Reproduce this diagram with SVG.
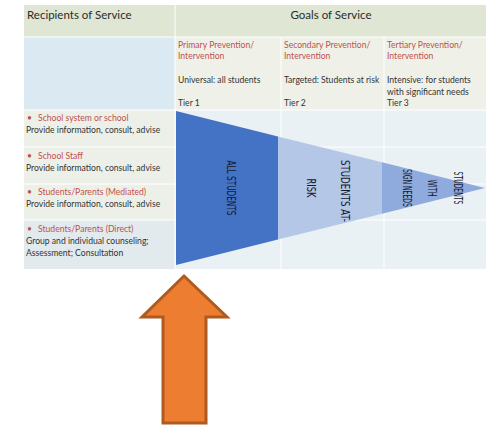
<svg xmlns="http://www.w3.org/2000/svg" width="498" height="425" viewBox="0 0 498 425">
<style>
.hd{font-family:Lato,"Open Sans",sans-serif;font-size:11.5px;fill:#2b2b2b}
.sm{font-family:Lato,"Open Sans",sans-serif;font-size:8.6px;fill:#333}
.rd{font-family:Lato,"Open Sans",sans-serif;font-size:8.6px;fill:#c0504d}
.tri{font-family:"DejaVu Sans","Liberation Sans",sans-serif;font-size:12px;fill:#141a30}
.sep{stroke:#ffffff;stroke-width:1;fill:none}
</style>
<rect width="498" height="425" fill="#ffffff"/>
<g id="table">
  <rect x="24" y="5" width="151" height="32" fill="#dfe6d3"/>
  <rect x="175" y="5" width="311" height="32" fill="#dfe6d3"/>
  <rect x="24" y="37" width="151" height="73" fill="#dbeaf2"/>
  <rect x="175" y="37" width="311" height="73" fill="#eff1e9"/>
  <rect x="24" y="110" width="151" height="110" fill="#edf0e8"/>
  <rect x="24" y="220" width="151" height="49" fill="#e2eaed"/>
  <rect x="175" y="110" width="311" height="159" fill="#eaf1f5"/>
  <line class="sep" x1="175" y1="5" x2="175" y2="269"/>
  <line class="sep" x1="281" y1="37" x2="281" y2="269"/>
  <line class="sep" x1="384" y1="37" x2="384" y2="269"/>
  <line class="sep" x1="24" y1="37" x2="486" y2="37"/>
  <line class="sep" x1="24" y1="110" x2="486" y2="110"/>
  <line class="sep" x1="24" y1="147" x2="486" y2="147"/>
  <line class="sep" x1="24" y1="184" x2="486" y2="184"/>
  <line class="sep" x1="24" y1="220" x2="486" y2="220"/>
</g>
<g id="header">
  <text class="hd" x="27" y="19">Recipients of Service</text>
  <text class="hd" x="331" y="19" text-anchor="middle">Goals of Service</text>
</g>
<g id="tiers">
  <text class="rd" x="178" y="48">Primary Prevention/</text>
  <text class="rd" x="178" y="59">Intervention</text>
  <text class="sm" x="178" y="83">Universal: all students</text>
  <text class="sm" x="178" y="106">Tier 1</text>
  <text class="rd" x="284" y="48">Secondary Prevention/</text>
  <text class="rd" x="284" y="59">Intervention</text>
  <text class="sm" x="284" y="83">Targeted: Students at risk</text>
  <text class="sm" x="284" y="106">Tier 2</text>
  <text class="rd" x="387" y="48">Tertiary Prevention/</text>
  <text class="rd" x="387" y="59">Intervention</text>
  <text class="sm" x="387" y="83">Intensive: for students</text>
  <text class="sm" x="387" y="95">with significant needs</text>
  <text class="sm" x="387" y="106">Tier 3</text>
</g>
<g id="recipients">
  <text class="rd" x="27" y="121">•</text><text class="rd" x="38" y="121">School system or school</text>
  <text class="sm" x="26" y="133">Provide information, consult, advise</text>
  <text class="rd" x="27" y="159">•</text><text class="rd" x="38" y="159">School Staff</text>
  <text class="sm" x="26" y="171">Provide information, consult, advise</text>
  <text class="rd" x="27" y="195">•</text><text class="rd" x="38" y="195">Students/Parents (Mediated)</text>
  <text class="sm" x="26" y="207">Provide information, consult, advise</text>
  <text class="rd" x="27" y="232">•</text><text class="rd" x="38" y="232">Students/Parents (Direct)</text>
  <text class="sm" x="26" y="244">Group and individual counseling;</text>
  <text class="sm" x="26" y="256">Assessment; Consultation</text>
</g>
<g id="triangle">
  <polygon points="176,111 278,136.4 278,239.6 176,265" fill="#4472c4"/>
  <polygon points="278,136.4 382,162.3 382,213.7 278,239.6" fill="#b4c7e7"/>
  <polygon points="382,162.3 485,188 382,213.7" fill="#8faadc"/>
  <text class="tri" transform="translate(227,188) rotate(90)" text-anchor="middle" textLength="55" lengthAdjust="spacingAndGlyphs">ALL STUDENTS</text>
  <text class="tri" transform="translate(341,191) rotate(90)" text-anchor="middle" textLength="62" lengthAdjust="spacingAndGlyphs">STUDENTS AT-</text>
  <text class="tri" transform="translate(307,188) rotate(90)" text-anchor="middle" textLength="19" lengthAdjust="spacingAndGlyphs">RISK</text>
  <text class="tri" transform="translate(454,188) rotate(90)" text-anchor="middle" textLength="33" lengthAdjust="spacingAndGlyphs">STUDENTS</text>
  <text class="tri" transform="translate(428,188) rotate(90)" text-anchor="middle" textLength="17" lengthAdjust="spacingAndGlyphs">WITH</text>
  <text class="tri" transform="translate(403,188) rotate(90)" text-anchor="middle" textLength="38" lengthAdjust="spacingAndGlyphs">SIGN NEEDS</text>
</g>
<g id="arrow">
  <polygon points="184,276 227,317 206,317 206,423 163,423 163,317 142,317" fill="#ed7d31" stroke="#b05a1e" stroke-width="3" stroke-linejoin="miter"/>
</g>
</svg>
